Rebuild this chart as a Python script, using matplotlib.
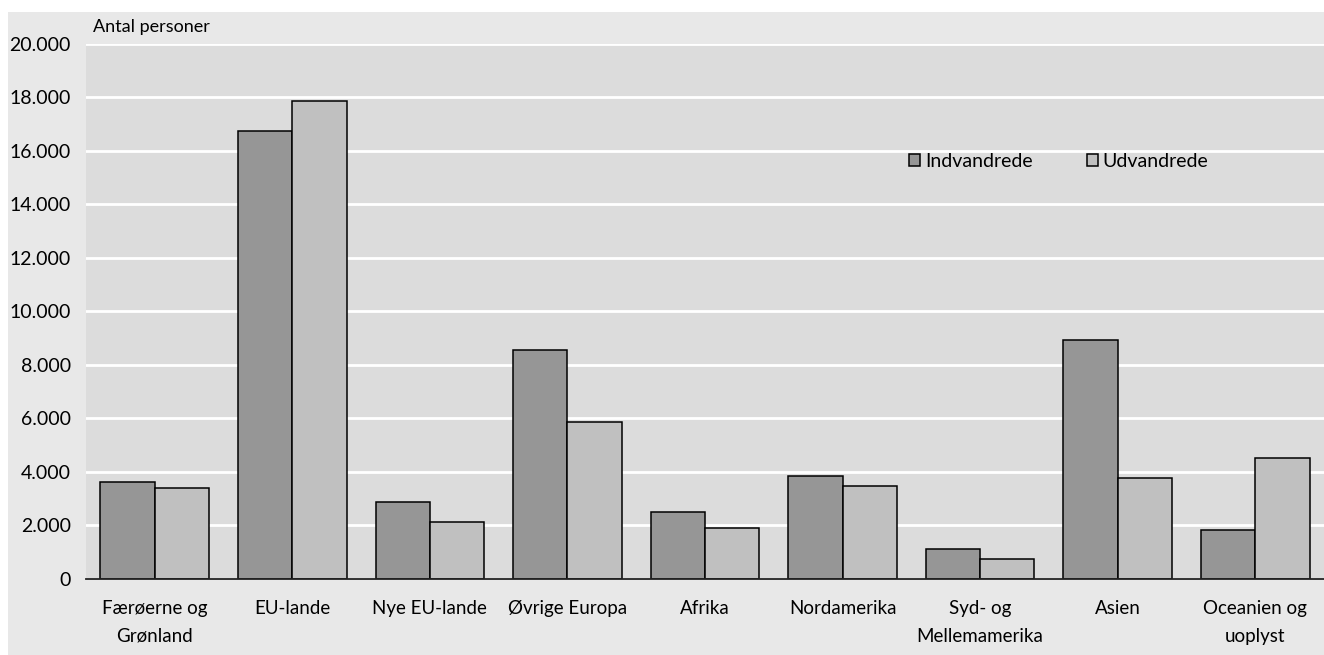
import matplotlib.pyplot as plt
import matplotlib.patches as mpatches
import numpy as np
from matplotlib.ticker import FuncFormatter

plt.rcParams['font.family'] = ['Lato', 'DejaVu Sans']

categories = ['Færøerne og\nGrønland', 'EU-lande', 'Nye EU-lande', 'Øvrige Europa', 'Afrika',
              'Nordamerika', 'Syd- og\nMellemamerika', 'Asien', 'Oceanien og\nuoplyst']
indvandrede = [3600, 16720, 2860, 8560, 2480, 3840, 1120, 8920, 1810]
udvandrede = [3380, 17860, 2110, 5860, 1880, 3450, 750, 3760, 4500]

dark = '#969696'
light = '#c0c0c0'

fig = plt.figure(figsize=(13.24, 6.55), dpi=100)
fig.patch.set_facecolor('white')
# light gray panel behind everything
fig.patches.append(mpatches.Rectangle((8 / 1324, 0), 1 - 8 / 1324, 1 - 12 / 655,
                                      transform=fig.transFigure, facecolor='#e8e8e8',
                                      edgecolor='none', zorder=-5))

ax = fig.add_axes([86 / 1324, 1 - 578.7 / 655, 1 - 86 / 1324, (578.7 - 43.7) / 655])
ax.set_zorder(2)
ax.set_facecolor('#dcdcdc')

x = np.arange(len(categories))
w = 0.395
ax.bar(x - w / 2, indvandrede, w, color=dark, edgecolor='black', linewidth=1.1, label='Indvandrede', zorder=3)
ax.bar(x + w / 2, udvandrede, w, color=light, edgecolor='black', linewidth=1.1, label='Udvandrede', zorder=3)

ax.set_xlim(-0.5, 8.5)
ax.set_ylim(0, 20000)
ax.set_yticks(np.arange(0, 20001, 2000))
ax.yaxis.set_major_formatter(FuncFormatter(lambda v, p: f'{int(v):,}'.replace(',', '.')))
ax.grid(axis='y', color='white', linewidth=2, zorder=1)
ax.set_axisbelow(True)

ax.set_xticks(x)
ax.set_xticklabels(categories, fontsize=13.5, linespacing=1.8)
ax.tick_params(axis='x', length=0, pad=15)
ax.tick_params(axis='y', length=0, pad=11, labelsize=14)

for s in ['top', 'right', 'left']:
    ax.spines[s].set_visible(False)
ax.spines['bottom'].set_color('#222222')
ax.spines['bottom'].set_linewidth(1.3)
ax.spines['bottom'].set_zorder(4)

fig.text(93 / 1324, 1 - 27 / 655, 'Antal personer', fontsize=13, va='center', ha='left', zorder=5)

ax.legend(loc='upper left', bbox_to_anchor=(0.651, 0.829), ncol=2, frameon=False, fontsize=14,
          handlelength=0.55, handleheight=0.55, handletextpad=0.25, columnspacing=2.8)

plt.savefig('out.png', dpi=100)
